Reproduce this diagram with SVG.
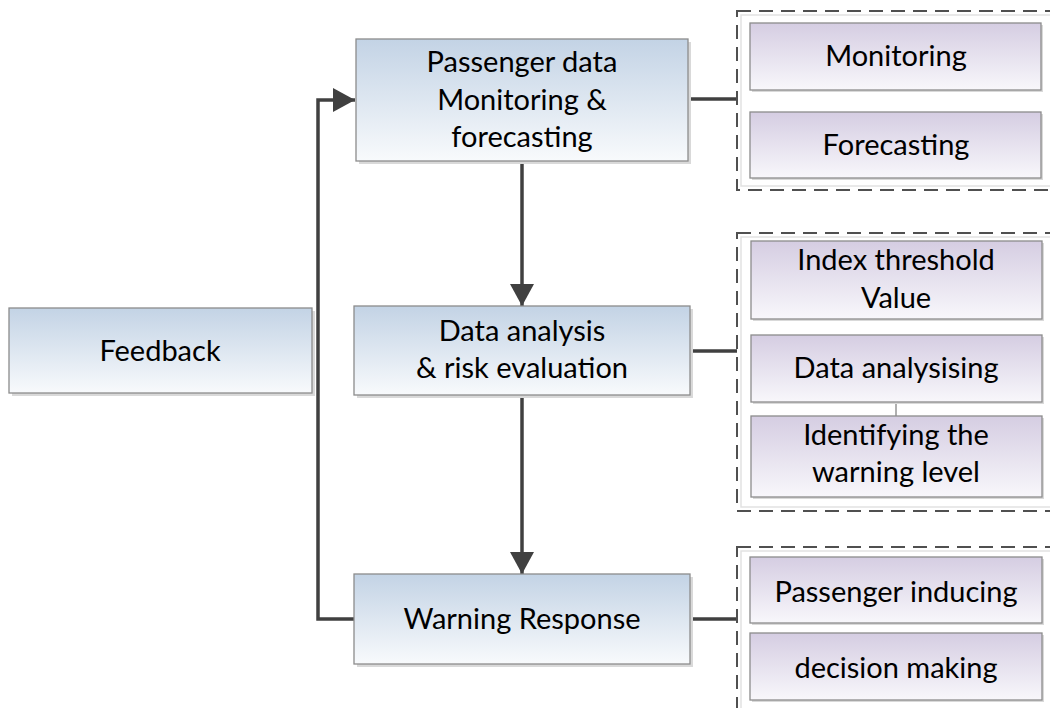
<svg xmlns="http://www.w3.org/2000/svg" width="1050" height="708" viewBox="0 0 1050 708">
<style>
.main{stroke:#8c8c8c;stroke-width:1.3;fill:url(#gb)}
.sub{stroke:#8c8c8c;stroke-width:1.3;fill:url(#gp)}
.sh{fill:#d9d9d9}
.dash{fill:none;stroke:#505050;stroke-width:2;stroke-dasharray:14 8}
.dashin{fill:none;stroke:#e2e2e2;stroke-width:1.5}
.ln{fill:none;stroke:#404040;stroke-width:3.5}
.thin{fill:none;stroke:#606060;stroke-width:1}
text{font-family:Lato,"Open Sans","Liberation Sans",sans-serif;font-size:29px;fill:#000;text-anchor:middle}
</style>
<defs>
<linearGradient id="gb" x1="0" y1="0" x2="0" y2="1">
<stop offset="0" stop-color="#c3d3e5"/>
<stop offset="1" stop-color="#f8fafc"/>
</linearGradient>
<linearGradient id="gp" x1="0" y1="0" x2="0" y2="1">
<stop offset="0" stop-color="#d5cde2"/>
<stop offset="1" stop-color="#f8f7fb"/>
</linearGradient>
<marker id="ah" markerWidth="24" markerHeight="24" refX="22" refY="12" orient="auto" markerUnits="userSpaceOnUse">
<path d="M0,0 L22,12 L0,24 Z" fill="#404040"/>
</marker>
</defs>

<g id="connectors">
<path class="ln" d="M354,619 H318 V100 H355" marker-end="url(#ah)"/>
<path class="ln" d="M522,161 V306" marker-end="url(#ah)"/>
<path class="ln" d="M522,395 V574" marker-end="url(#ah)"/>
<path class="ln" d="M688,99 H737"/>
<path class="ln" d="M690,351 H737"/>
<path class="ln" d="M690,619 H737"/>
<path class="thin" d="M896,402 V416"/>
</g>

<g id="group1">
<rect class="dashin" x="741" y="15" width="320" height="171"/>
<rect class="dash" x="737" y="11" width="330" height="179"/>
</g>
<g id="group2">
<rect class="dashin" x="741" y="237" width="320" height="270"/>
<rect class="dash" x="737" y="233" width="330" height="278"/>
</g>
<g id="group3">
<rect class="dashin" x="741" y="551" width="320" height="160"/>
<rect class="dash" x="737" y="547" width="330" height="170"/>
</g>

<g id="feedback">
<rect class="sh" x="12" y="311" width="303" height="85"/>
<rect class="main" x="9" y="308" width="303" height="85"/>
<text x="160" y="361">Feedback</text>
</g>

<g id="passenger-data">
<rect class="sh" x="359" y="42" width="332" height="122"/>
<rect class="main" x="356" y="39" width="332" height="122"/>
<text x="522" y="72">Passenger data</text>
<text x="522" y="110">Monitoring &amp;</text>
<text x="522" y="147">forecasting</text>
</g>

<g id="data-analysis">
<rect class="sh" x="357" y="309" width="336" height="89"/>
<rect class="main" x="354" y="306" width="336" height="89"/>
<text x="522" y="341">Data analysis</text>
<text x="522" y="378">&amp; risk evaluation</text>
</g>

<g id="warning-response">
<rect class="sh" x="357" y="577" width="336" height="90"/>
<rect class="main" x="354" y="574" width="336" height="90"/>
<text x="522" y="629">Warning Response</text>
</g>

<g id="monitoring">
<rect class="sh" x="752" y="25" width="291" height="67"/>
<rect class="sub" x="750" y="23" width="291" height="67"/>
<text x="896" y="66">Monitoring</text>
</g>
<g id="forecasting">
<rect class="sh" x="752" y="114" width="291" height="66"/>
<rect class="sub" x="750" y="112" width="291" height="66"/>
<text x="896" y="155">Forecasting</text>
</g>

<g id="index-threshold">
<rect class="sh" x="753" y="243" width="291" height="78"/>
<rect class="sub" x="751" y="241" width="291" height="78"/>
<text x="896" y="270">Index threshold</text>
<text x="896" y="308">Value</text>
</g>
<g id="data-analysising">
<rect class="sh" x="753" y="337" width="291" height="67"/>
<rect class="sub" x="751" y="335" width="291" height="67"/>
<text x="896" y="378">Data analysising</text>
</g>
<g id="identifying">
<rect class="sh" x="753" y="418" width="291" height="81"/>
<rect class="sub" x="751" y="416" width="291" height="81"/>
<text x="896" y="445">Identifying the</text>
<text x="896" y="482">warning level</text>
</g>

<g id="passenger-inducing">
<rect class="sh" x="752" y="559" width="292" height="66"/>
<rect class="sub" x="750" y="557" width="292" height="66"/>
<text x="896" y="602">Passenger inducing</text>
</g>
<g id="decision-making">
<rect class="sh" x="752" y="635" width="292" height="67"/>
<rect class="sub" x="750" y="633" width="292" height="67"/>
<text x="896" y="678">decision making</text>
</g>
</svg>
